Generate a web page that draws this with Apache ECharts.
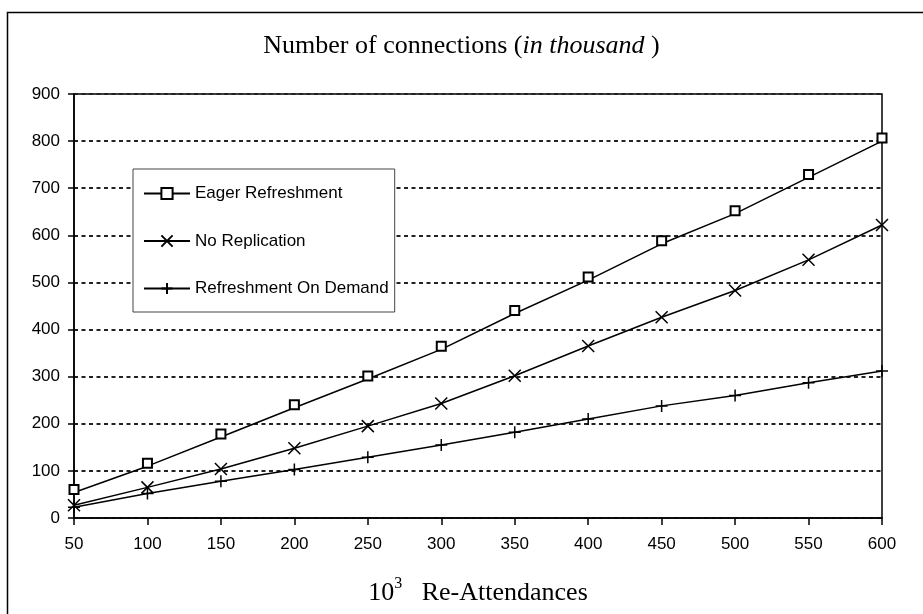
<!DOCTYPE html>
<html>
<head>
<meta charset="utf-8">
<style>
  html, body { margin: 0; padding: 0; background: #fff; }
  #chart { width: 923px; height: 614px; }
</style>
</head>
<body>
<div id="chart"></div>
<script src="https://cdn.jsdelivr.net/npm/echarts@6/dist/echarts.min.js"></script>
<script>
  // Values.
  const xValues = [50, 100, 150, 200, 250, 300, 350, 400, 450, 500, 550, 600];
  const eagerRefreshment = [54, 110, 172, 234, 295, 358, 434, 505, 582, 646, 723, 800];
  const noReplication = [27, 65, 104, 148, 195, 243, 302, 365, 426, 483, 548, 622];
  const refreshmentOnDemand = [23, 52, 78, 103, 129, 155, 182, 210, 238, 260, 287, 312];
  const seriesNames = ['Eager Refreshment', 'No Replication', 'Refreshment On Demand'];

  const crossPath = 'path://M0,0L10,10M10,0L0,10';
  const plusPath = 'path://M5,0L5,10M0,5L10,5';

  function pairs(values) {
    return xValues.map(function (x, i) { return [x, values[i]]; });
  }

  function makeSeries(name, values, symbol, size, offset) {
    return {
      name: name,
      type: 'line',
      data: pairs(values),
      symbol: symbol,
      symbolSize: size,
      symbolOffset: offset || [0, 0],
      showAllSymbol: true,
      lineStyle: { color: '#000', width: 1.5 },
      itemStyle: { color: '#000', borderColor: '#000', borderWidth: 1.5 },
      emphasis: { disabled: true },
      z: 3
    };
  }

  const chart = echarts.init(document.getElementById('chart'), null, { renderer: 'canvas' });
  const labelFont = { fontFamily: 'Liberation Sans, Arial, sans-serif', fontSize: 17, color: '#000' };
  const serif = 'Liberation Serif, Times New Roman, serif';

  chart.setOption({
    animation: false,
    backgroundColor: '#fff',
    graphic: [{
      type: 'rect',
      shape: { x: 7.5, y: 12.5, width: 940, height: 640 },
      style: { fill: 'none', stroke: '#000', lineWidth: 1.5 },
      silent: true
    }],
    title: {
      text: '{a|Number of connections (}{b|in thousand}{a| )}',
      left: 'center',
      top: 28,
      textStyle: {
        fontWeight: 'normal',
        rich: {
          a: { fontFamily: serif, fontSize: 26, fontWeight: 'normal', color: '#000' },
          b: { fontFamily: serif, fontSize: 26, fontWeight: 'normal', fontStyle: 'italic', color: '#000' }
        }
      }
    },
    legend: {
      data: seriesNames,
      orient: 'vertical',
      left: 133,
      top: 169,
      padding: [16, 6, 15, 10],
      itemWidth: 46,
      itemHeight: 14,
      itemGap: 30.5,
      backgroundColor: '#fff',
      borderColor: '#444',
      borderWidth: 1,
      textStyle: labelFont,
      selectedMode: false
    },
    grid: {
      left: 74,
      right: 41,
      top: 94,
      bottom: 96,
      show: true,
      borderColor: '#000',
      borderWidth: 1.5,
      containLabel: false
    },
    xAxis: {
      type: 'value',
      min: 50,
      max: 600,
      interval: 50,
      name: '{n|10}{s|3}{n|   Re-Attendances}',
      nameLocation: 'middle',
      nameGap: 58,
      nameTextStyle: {
        rich: {
          n: { fontFamily: serif, fontSize: 26, color: '#000', lineHeight: 34 },
          s: { fontFamily: serif, fontSize: 16, color: '#000', verticalAlign: 'top', lineHeight: 34 }
        }
      },
      axisLine: { lineStyle: { color: '#000', width: 1.5 } },
      axisTick: { length: 7, lineStyle: { color: '#000', width: 1.5 } },
      axisLabel: Object.assign({ margin: 18 }, labelFont),
      splitLine: { show: false }
    },
    yAxis: {
      type: 'value',
      min: 0,
      max: 900,
      interval: 100,
      axisLine: { show: true, lineStyle: { color: '#000', width: 1.5 } },
      axisTick: { show: true, length: 6, lineStyle: { color: '#000', width: 1.5 } },
      axisLabel: Object.assign({ margin: 14 }, labelFont),
      splitLine: { lineStyle: { color: '#222', width: 2, type: [4, 3.5] } }
    },
    series: [
      makeSeries(seriesNames[0], eagerRefreshment, 'emptyRect', 9, [0, -3]),
      makeSeries(seriesNames[1], noReplication, crossPath, 12),
      makeSeries(seriesNames[2], refreshmentOnDemand, plusPath, 12)
    ]
  });
</script>
</body>
</html>
